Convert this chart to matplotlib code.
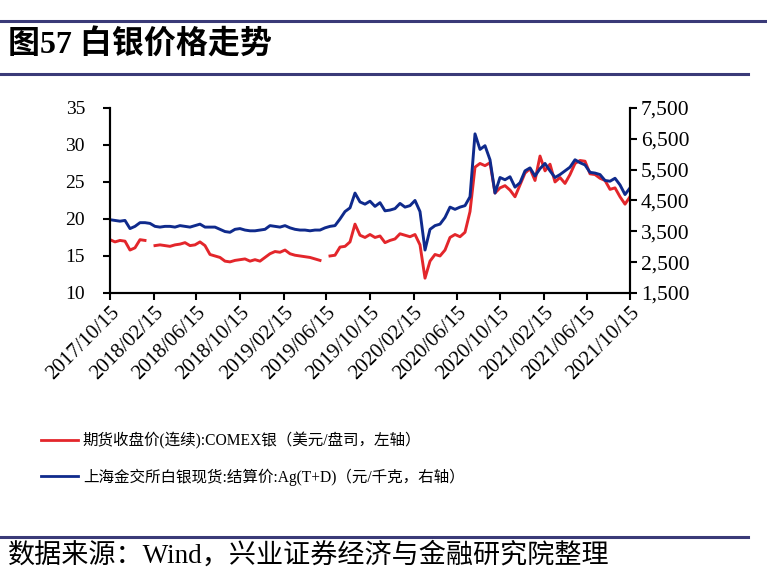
import numpy as np
import pandas as pd
import matplotlib
matplotlib.use("Agg")
import matplotlib.pyplot as plt
from matplotlib.lines import Line2D
from matplotlib.ticker import FuncFormatter

plt.rcParams['font.family'] = ['Liberation Serif', 'Noto Sans CJK SC', 'DejaVu Sans']

# data, roughly every two weeks
dates = pd.date_range("2017-10-15", "2021-10-15", periods=105)

comex = [
    17.2, 16.9, 17.1, 17.0, 15.8, 16.1, 17.2, 17.1, np.nan, 16.4,
    16.5, 16.4, 16.3, 16.5, 16.6, 16.8, 16.4, 16.5, 16.9, 16.4,
    15.2, 15.0, 14.8, 14.3, 14.2, 14.4, 14.5, 14.6, 14.3, 14.5,
    14.3, 14.8, 15.3, 15.6, 15.5, 15.8, 15.3, 15.1, 15.0, 14.9,
    14.8, 14.6, 14.4, np.nan, 15.0, 15.1, 16.2, 16.3, 16.9, 19.3,
    17.8, 17.5, 17.9, 17.5, 17.7, 16.8, 17.1, 17.3, 18.0, 17.8,
    17.6, 17.9, 16.5, 12.0, 14.3, 15.2, 15.0, 15.8, 17.5, 17.9,
    17.6, 18.2, 21.0, 27.0, 27.5, 27.2, 27.6, 23.5, 24.2, 24.5,
    23.9, 23.0, 24.6, 26.2, 26.8, 25.2, 28.5, 26.5, 27.4, 25.0,
    25.6, 24.8, 26.0, 27.5, 27.9, 27.8, 26.1, 26.0, 25.5, 25.2,
    24.0, 24.2, 23.0, 22.0, 23.0,
]

sge = [
    3876, 3852, 3828, 3852, 3588, 3660, 3780, 3780, 3756, 3660,
    3636, 3660, 3660, 3636, 3684, 3660, 3636, 3684, 3732, 3636,
    3636, 3636, 3564, 3492, 3468, 3564, 3588, 3540, 3516, 3516,
    3540, 3564, 3684, 3660, 3636, 3684, 3612, 3564, 3540, 3540,
    3516, 3540, 3540, 3612, 3660, 3684, 3900, 4140, 4260, 4740,
    4452, 4380, 4476, 4308, 4428, 4164, 4188, 4236, 4404, 4284,
    4332, 4500, 4140, 2892, 3564, 3684, 3732, 3948, 4284, 4212,
    4284, 4332, 4620, 6660, 6156, 6276, 5820, 4740, 5244, 5172,
    5268, 4932, 5076, 5460, 5556, 5292, 5532, 5700, 5460, 5244,
    5340, 5460, 5580, 5820, 5724, 5652, 5412, 5388, 5340, 5148,
    5124, 5220, 5004, 4692, 4908,
]

tick_labels = [
    "2017/10/15", "2018/02/15", "2018/06/15", "2018/10/15", "2019/02/15",
    "2019/06/15", "2019/10/15", "2020/02/15", "2020/06/15", "2020/10/15",
    "2021/02/15", "2021/06/15", "2021/10/15",
]
left_ticks = [10, 15, 20, 25, 30, 35]
right_ticks = [1500, 2500, 3500, 4500, 5500, 6500, 7500]

label_red = "期货收盘价(连续):COMEX银（美元/盘司，左轴）"
label_blue = "上海金交所白银现货:结算价:Ag(T+D)（元/千克，右轴）"

red = "#e3262b"
blue = "#0f2a8c"
rule = "#3a3a78"

fig = plt.figure(figsize=(7.67, 5.87), dpi=100)
ax = fig.add_axes([0.1434, 0.5009, 0.678, 0.3152])
ax2 = ax.twinx()

ax.plot(dates, comex, color=red, lw=2.1)
ax2.plot(dates, sge, color=blue, lw=2.1)

ax.set_xlim(pd.Timestamp("2017-10-15"), pd.Timestamp("2021-10-15"))
ax.set_ylim(10, 35)
ax2.set_ylim(1500, 7500)
ax.set_yticks(left_ticks)
ax2.set_yticks(right_ticks)
ax2.yaxis.set_major_formatter(FuncFormatter(lambda v, p: f"{int(v):,}"))
ax.set_xticks(pd.to_datetime(tick_labels, format="%Y/%m/%d"))
ax.set_xticklabels(tick_labels, rotation=45, ha="right", rotation_mode="anchor")

for a in (ax, ax2):
    a.spines["top"].set_visible(False)
    for s in ("left", "right", "bottom"):
        a.spines[s].set_linewidth(1.5)
    a.tick_params(axis="both", direction="out", length=5, width=1.5, pad=3)
ax.tick_params(axis="y", labelsize=14, pad=13)
ax2.tick_params(axis="y", labelsize=15.5, pad=3)
ax.tick_params(axis="x", labelsize=15, pad=2)

handles = [Line2D([], [], color=red, lw=2), Line2D([], [], color=blue, lw=2)]
fig.legend(handles, [label_red, label_blue], loc="upper left",
           bbox_to_anchor=(0.035, 0.288), frameon=False, fontsize=11.2,
           handlelength=2.4, handletextpad=0.3, labelspacing=1.25)

fig.text(0.01, 0.923, "图57 白银价格走势", fontsize=23, fontweight="bold", va="center")
fig.text(0.01, 0.054, "数据来源：Wind，兴业证券经济与金融研究院整理", fontsize=19.5, va="center")

fig.add_artist(Line2D([0, 1], [0.964, 0.964], color=rule, lw=2.2))
fig.add_artist(Line2D([0, 0.975], [0.874, 0.874], color=rule, lw=2.2))
fig.add_artist(Line2D([0, 0.975], [0.085, 0.085], color=rule, lw=2.2))

fig.savefig("out.png", dpi=100)
